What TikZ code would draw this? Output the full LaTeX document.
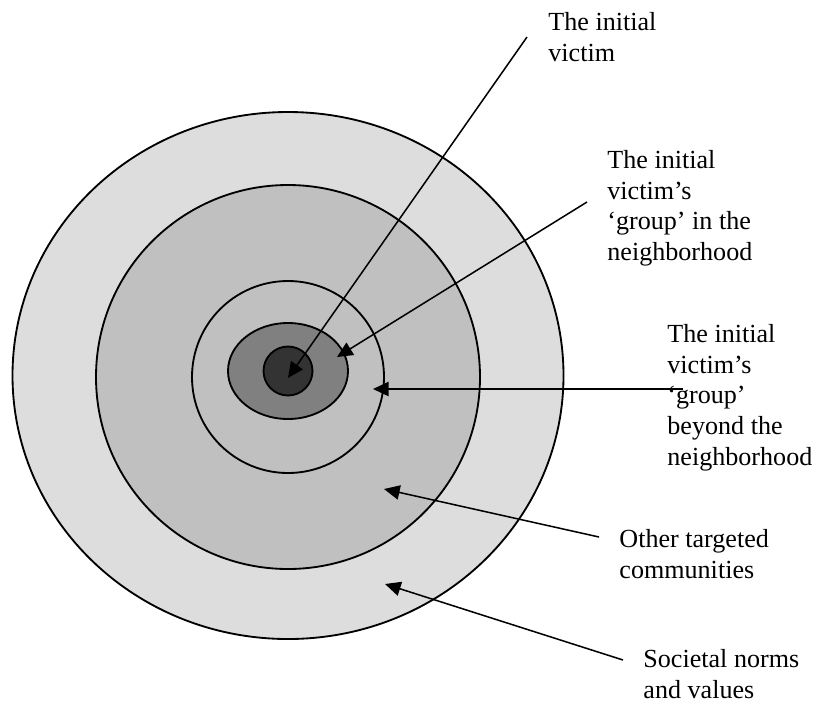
\documentclass[tikz,border=0pt]{standalone}
\usepackage{fontspec}
\setmainfont{Liberation Serif}
\usetikzlibrary{arrows.meta}
\definecolor{ringA}{gray}{0.867}
\definecolor{ringB}{gray}{0.753}
\definecolor{ringC}{gray}{0.502}
\definecolor{ringD}{gray}{0.2}
\begin{document}
\begin{tikzpicture}[x=0.46pt,y=-0.46pt,
    ring/.style={draw=black,line width=0.85pt},
    pointer/.style={-{Triangle[length=7.2pt,width=6.6pt]},line width=0.7pt},
    lbl/.style={anchor=north west,inner sep=0pt,align=left,font=\fontsize{12}{14.1}\selectfont}]
    \useasboundingbox (0,0) rectangle (817,702);
    % rings, from the outside in
    \draw[ring,fill=ringA] (288,375.5) ellipse (275.5 and 263.5);
    \draw[ring,fill=ringB] (288,377) circle (192);
    \draw[ring,fill=ringB] (288,377) circle (96);
    \draw[ring,fill=ringC] (288,371) ellipse (60 and 48);
    \draw[ring,fill=ringD] (288,371) circle (24.5);
    % labels
    \node[lbl] (victim) at (548,12) {The initial\\victim};
    \node[lbl] (near) at (607,150) {The initial\\victim’s\\`group' in the\\neighborhood};
    \node[lbl] (beyond) at (667,324) {The initial\\victim’s\\`group'\\beyond the\\neighborhood};
    \node[lbl] (others) at (619,529) {Other targeted\\communities};
    \node[lbl] (norms) at (643,649) {Societal norms\\and values};
    % pointers
    \coordinate (s1) at (527,37);  \coordinate (t1) at (288,378);
    \coordinate (s2) at (587,202); \coordinate (t2) at (337,357);
    \coordinate (s3) at (683,389); \coordinate (t3) at (373,389);
    \coordinate (s4) at (599,537); \coordinate (t4) at (384,489);
    \coordinate (s5) at (623,660); \coordinate (t5) at (385,584);
    \draw[pointer] (s1) -- (t1);
    \draw[pointer] (s2) -- (t2);
    \draw[pointer] (s3) -- (t3);
    \draw[pointer] (s4) -- (t4);
    \draw[pointer] (s5) -- (t5);
\end{tikzpicture}
\end{document}
